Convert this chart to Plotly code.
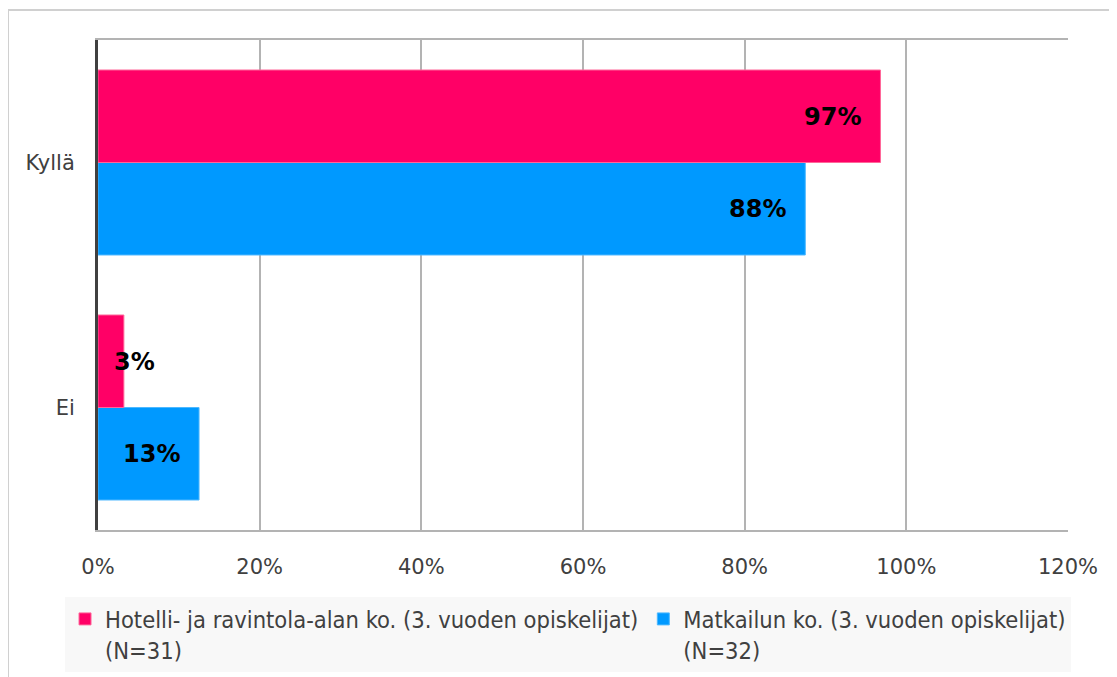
import plotly.graph_objects as go

categories = ['Kyllä', 'Ei']
hotelli = [96.8, 3.2]
matkailu = [87.5, 12.5]
hotelli_labels = ['97%', '3%']
matkailu_labels = ['88%', '13%']
x_ticks = [0, 20, 40, 60, 80, 100, 120]
x_ticktext = ['0%', '20%', '40%', '60%', '80%', '100%', '120%']

pink = '#FF0066'
blue = '#0099FF'

fig = go.Figure()
# blue first so that pink sits on top inside each group
fig.add_trace(go.Bar(y=categories, x=matkailu, orientation='h',
                     name='Matkailun ko. (3. vuoden opiskelijat)<br>(N=32)',
                     marker=dict(color=blue, line=dict(color='#4db8ff', width=1)),
                     legendrank=2, hoverinfo='x+y'))
fig.add_trace(go.Bar(y=categories, x=hotelli, orientation='h',
                     name='Hotelli- ja ravintola-alan ko. (3. vuoden opiskelijat)<br>(N=31)',
                     marker=dict(color=pink, line=dict(color='#ff6699', width=1)),
                     legendrank=1, hoverinfo='x+y'))

# data labels, "inside end" like the original
label_font = dict(family='DejaVu Sans', size=24, color='black')
for vals, labs, ysh in [(hotelli, hotelli_labels, 46), (matkailu, matkailu_labels, -46)]:
    for cat, v, lab in zip(categories, vals, labs):
        if v < 8:
            fig.add_annotation(x=0, y=cat, text='<b>%s</b>' % lab, showarrow=False,
                               xanchor='left', xshift=14, yshift=ysh, font=label_font)
        else:
            fig.add_annotation(x=v, y=cat, text='<b>%s</b>' % lab, showarrow=False,
                               xanchor='right', xshift=-17, yshift=ysh, font=label_font)

fig.update_layout(
    barmode='group', bargap=0.245, bargroupgap=0,
    width=1117, height=677,
    margin=dict(l=90, r=57, t=32, b=155),
    paper_bgcolor='white', plot_bgcolor='white',
    font=dict(family='DejaVu Sans', size=21, color='#404040'),
    xaxis=dict(range=[0, 120], tickvals=x_ticks, ticktext=x_ticktext,
               showgrid=True, gridcolor='#b3b3b3', gridwidth=2,
               showline=True, linecolor='#b3b3b3', linewidth=2, mirror=True,
               zeroline=False, ticks='', ticklabelstandoff=17),
    yaxis=dict(categoryorder='array', categoryarray=['Ei', 'Kyllä'],
               showline=True, linecolor='#404040', linewidth=3,
               ticks='', ticklabelstandoff=16, showgrid=False),
    legend=dict(orientation='h', x=-0.034, y=-0.137, xanchor='left', yanchor='top',
                bgcolor='#f8f8f8', valign='top', itemwidth=30,
                font=dict(family='DejaVu Sans Condensed', size=23.5, color='#404040'),
                traceorder='normal'),
    showlegend=True,
)

# outer chart frame (right and bottom edges fall outside the picture)
fig.add_shape(type='rect', xref='paper', yref='paper', x0=-0.0928, x1=1.1, y0=-0.4, y1=1.061,
              line=dict(color='#d0d0d0', width=2), fillcolor='rgba(0,0,0,0)', layer='below')

fig.write_html('out.html')
